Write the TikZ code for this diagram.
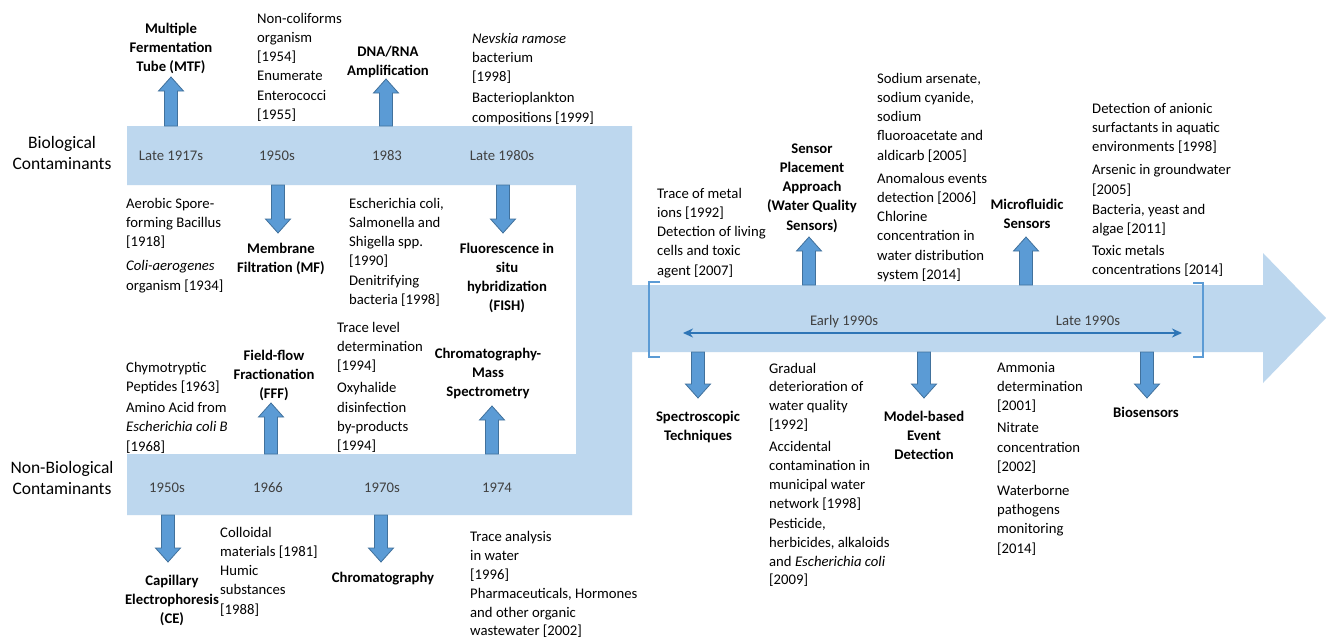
\documentclass[tikz,border=0pt]{standalone}
\usepackage{fontspec}
\setmainfont{Carlito}
\usetikzlibrary{arrows.meta}
\definecolor{bandblue}{HTML}{BDD7EE}
\definecolor{arrfill}{HTML}{5B9BD5}
\definecolor{arrline}{HTML}{41719C}
\definecolor{dblue}{HTML}{2E75B6}
\definecolor{bandtext}{HTML}{404040}
\newcommand{\txtfont}{\fontsize{14.7}{19.2}\selectfont}
\newcommand{\catfont}{\fontsize{17.5}{21.5}\selectfont}
\tikzset{
 note/.style={font=\txtfont, align=left, inner sep=0pt, anchor=north west},
 tech/.style={font=\txtfont\bfseries, align=center, inner sep=0pt, anchor=north},
 era/.style={font=\txtfont, text=bandtext, inner sep=0pt, anchor=base},
 cat/.style={font=\catfont, align=center, inner sep=0pt, anchor=north},
 blockarrow/.style={fill=arrfill, draw=arrline, line width=0.8pt, line join=miter},
 bracketline/.style={draw=arrfill, line width=1.5pt},
 timeline/.style={draw=dblue, line width=2.5pt, {Stealth[length=10pt,width=9pt]}-{Stealth[length=10pt,width=9pt]}}
}
\newcommand{\BAup}[3]{\path[blockarrow] (#1-6.5,#2) -- (#1-6.5,#3+14) -- (#1-12.5,#3+14) -- (#1,#3) -- (#1+12.5,#3+14) -- (#1+6.5,#3+14) -- (#1+6.5,#2) -- cycle;}
\newcommand{\BAdown}[3]{\path[blockarrow] (#1-6.5,#2) -- (#1-6.5,#3-14) -- (#1-12.5,#3-14) -- (#1,#3) -- (#1+12.5,#3-14) -- (#1+6.5,#3-14) -- (#1+6.5,#2) -- cycle;}
\begin{document}
\begin{tikzpicture}[x=1pt,y=-1pt]
\useasboundingbox[fill=white] (0,0) rectangle (1326,637);
% main band shape
\fill[bandblue] (127,126) -- (632,126) -- (632,285) -- (1263,285) -- (1263,253) -- (1326,318)
  -- (1263,383) -- (1263,352) -- (632,352) -- (632,515) -- (127,515) -- (127,454)
  -- (576,454) -- (576,185) -- (127,185) -- cycle;
% brackets
\draw[bracketline] (660,282) -- (649,282) -- (649,357) -- (660,357);
\draw[bracketline] (1193,283) -- (1203,283) -- (1203,357) -- (1193,357);
% timeline
\coordinate (tl) at (683,333);
\coordinate (tr) at (1182,333);
\draw[timeline] (tl) -- (tr);
% block arrows
\BAup{171}{126}{77}
\BAup{386}{126}{79}
\BAup{271}{454}{403}
\BAup{492}{454}{406}
\BAup{809}{285}{237}
\BAup{1026}{285}{237}
\BAdown{278}{185}{233}
\BAdown{503}{185}{233}
\BAdown{168}{515}{562}
\BAdown{381}{515}{562}
\BAdown{698}{352}{398}
\BAdown{924}{352}{398}
\BAdown{1147}{352}{398}
% categories
\node[cat] (bio) at (62,133) {\strut Biological\\Contaminants};
\node[cat] (nonbio) at (62,458) {\strut Non-Biological\\Contaminants};
% era labels
\node[era] (e1) at (171,160) {Late 1917s};
\node[era] (e2) at (277,160) {1950s};
\node[era] (e3) at (387,160) {1983};
\node[era] (e4) at (502,160) {Late 1980s};
\node[era] (e5) at (167,492) {1950s};
\node[era] (e6) at (268,492) {1966};
\node[era] (e7) at (382,492) {1970s};
\node[era] (e8) at (497,492) {1974};
\node[era] (e9) at (844,325) {Early 1990s};
\node[era] (e10) at (1088,325) {Late 1990s};
% technique labels
\node[tech] (mtf) at (171,19.6) {\strut Multiple\\Fermentation\\Tube (MTF)};
\node[tech] (dna) at (388,42.6) {\strut DNA/RNA\\Amplification};
\node[tech] (mf) at (281,239.6) {\strut Membrane\\Filtration (MF)};
\node[tech] (fish) at (507,239.6) {\strut Fluorescence in\\situ\\hybridization\\(FISH)};
\node[tech] (fff) at (274,346.6) {\strut Field-flow\\Fractionation\\(FFF)};
\node[tech] (cms) at (488,344.6) {\strut Chromatography-\\Mass\\Spectrometry};
\node[tech] (ce) at (172,571.6) {\strut Capillary\\Electrophoresis\\(CE)};
\node[tech] (chrom) at (383,568.6) {\strut Chromatography};
\node[tech] (spa) at (812,139.6) {\strut Sensor\\Placement\\Approach\\(Water Quality\\Sensors)};
\node[tech] (micro) at (1027,195.6) {\strut Microfluidic\\Sensors};
\node[tech] (spec) at (698,407.6) {\strut Spectroscopic\\Techniques};
\node[tech] (model) at (924,407.6) {\strut Model-based\\Event\\Detection};
\node[tech] (biosens) at (1146,403.6) {\strut Biosensors};
% notes
\node[note] (n1) at (257,9.6) {\strut Non-coliforms\\organism\\{[}1954]\\Enumerate\\Enterococci\\{[}1955]};
\node[note] (n2) at (472,29.6) {\strut\textit{Nevskia ramose}\\bacterium\\{[}1998]\\[2pt]Bacterioplankton\\compositions {[}1999]};
\node[note] (n3) at (126,194.6) {\strut Aerobic Spore-\\forming Bacillus\\{[}1918]\\[5pt]\textit{Coli-aerogenes}\\organism {[}1934]};
\node[note] (n4) at (349,194.6) {\strut Escherichia coli,\\Salmonella and\\Shigella spp.\\{[}1990]\\Denitrifying\\bacteria {[}1998]};
\node[note] (n5) at (337,318.6) {\strut Trace level\\determination\\{[}1994]\\[3pt]Oxyhalide\\disinfection\\by-products\\{[}1994]};
\node[note] (n6) at (126,358.6) {\strut Chymotryptic\\Peptides {[}1963]\\[2pt]Amino Acid from\\\textit{Escherichia coli B}\\{[}1968]};
\node[note] (n7) at (220,523.6) {\strut Colloidal\\materials {[}1981]\\Humic\\substances\\{[}1988]};
\node[note, font={\fontsize{14.7}{18.6}\selectfont}] (n8) at (470,528.6) {\strut Trace analysis\\in water\\{[}1996]\\[1pt]Pharmaceuticals, Hormones\\and other organic\\wastewater {[}2002]};
\node[note] (n9) at (657,184.6) {\strut Trace of metal\\ions {[}1992]\\Detection of living\\cells and toxic\\agent {[}2007]};
\node[note] (n10) at (877,69.6) {\strut Sodium arsenate,\\sodium cyanide,\\sodium\\fluoroacetate and\\aldicarb {[}2005]\\[4pt]Anomalous events\\detection {[}2006]\\Chlorine\\concentration in\\water distribution\\system {[}2014]};
\node[note] (n11) at (1092,99.6) {\strut Detection of anionic\\surfactants in aquatic\\environments {[}1998]\\[4pt]Arsenic in groundwater\\{[}2005]\\[1pt]Bacteria, yeast and\\algae {[}2011]\\[3pt]Toxic metals\\concentrations {[}2014]};
\node[note, font={\fontsize{14.7}{18.9}\selectfont}] (n12) at (769,359.6) {\strut Gradual\\deterioration of\\water quality\\{[}1992]\\[3pt]Accidental\\contamination in\\municipal water\\network {[}1998]\\[1pt]Pesticide,\\herbicides, alkaloids\\and \textit{Escherichia coli}\\{[}2009]};
\node[note] (n13) at (997,358.6) {\strut Ammonia\\determination\\{[}2001]\\[3pt]Nitrate\\concentration\\{[}2002]\\[5pt]Waterborne\\pathogens\\monitoring\\{[}2014]};
\end{tikzpicture}
\end{document}
